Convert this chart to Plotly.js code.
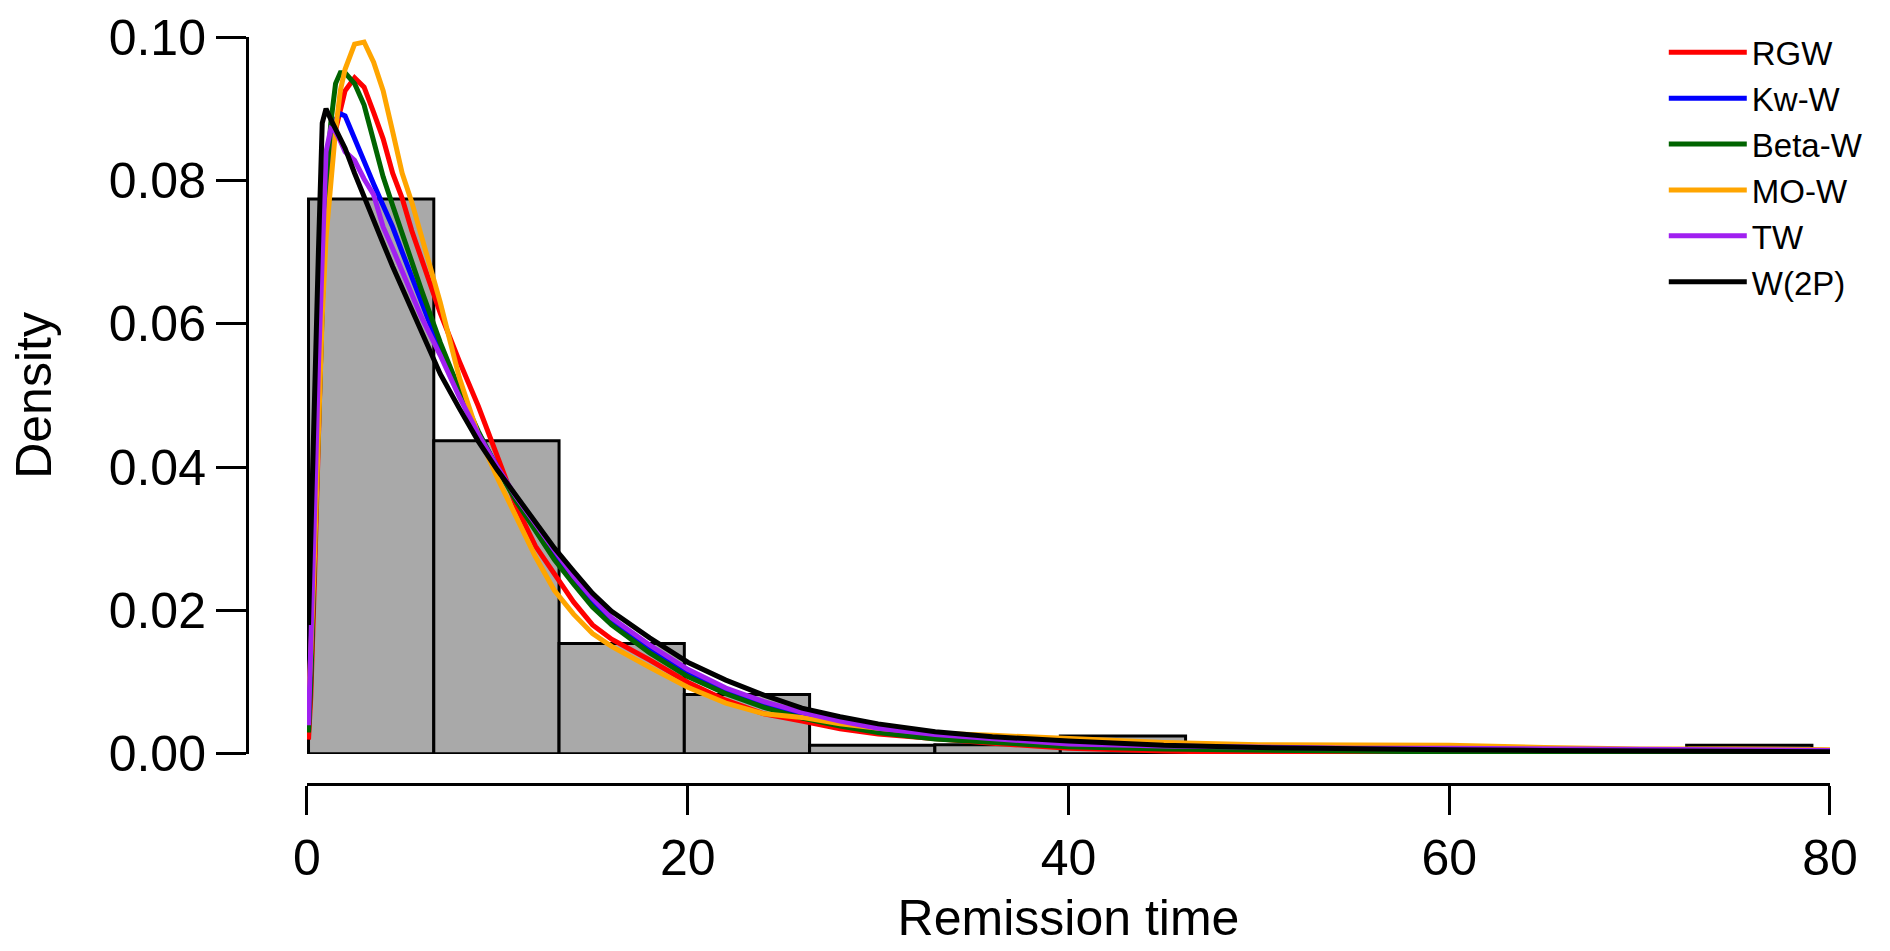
<!DOCTYPE html>
<html>
<head>
<meta charset="utf-8">
<script src="https://cdn.plot.ly/plotly-3.0.1.min.js"></script>
<style>
  html, body { margin: 0; padding: 0; background: #ffffff; }
  #chart { width: 1890px; height: 951px; }
</style>
</head>
<body>
<div id="chart"></div>
<script>
// histogram of remission times (density scale)
const binEdges = [0.08, 6.66, 13.24, 19.82, 26.40, 32.98, 39.57, 46.15, 52.73, 59.31, 65.89, 72.47, 79.05]
const binDensity = [0.0774, 0.0437, 0.0154, 0.0083, 0.0012, 0.0013, 0.0025, 0, 0, 0, 0, 0.0012]

// fitted density curves
const remissionX = [0.08, 0.2, 0.4, 0.6, 0.8, 1, 1.25, 1.5, 1.75, 2, 2.5, 3, 3.5, 4, 4.5, 5, 5.5, 6, 7, 8, 9, 10, 11, 12, 13, 14, 15, 16, 18, 20, 22, 24, 26, 28, 30, 33, 36, 40, 45, 50, 55, 60, 65, 70, 75, 80]
const rgw   = [0.002, 0.008, 0.025, 0.045, 0.063, 0.076, 0.083, 0.087, 0.090, 0.0925, 0.0943, 0.0930, 0.0895, 0.0858, 0.0810, 0.0775, 0.0730, 0.0690, 0.0615, 0.0548, 0.0485, 0.0415, 0.0345, 0.0290, 0.0250, 0.0212, 0.0180, 0.0160, 0.0131, 0.0100, 0.0075, 0.0056, 0.0046, 0.0035, 0.0028, 0.0021, 0.0015, 0.0008, 0.0004, 0.0002, 0.0001, 0.0000, 0.0000, 0.0000, 0.0000, 0.0000]
const kwW   = [0.004, 0.012, 0.030, 0.050, 0.066, 0.078, 0.085, 0.0885, 0.0893, 0.0890, 0.0858, 0.0823, 0.0795, 0.0765, 0.0735, 0.0700, 0.0665, 0.0630, 0.0563, 0.0503, 0.0448, 0.0400, 0.0356, 0.0316, 0.0278, 0.0243, 0.0210, 0.0185, 0.0146, 0.0113, 0.0088, 0.0069, 0.0054, 0.0042, 0.0033, 0.0024, 0.0018, 0.0012, 0.0008, 0.0006, 0.0005, 0.0004, 0.0004, 0.0003, 0.0002, 0.0002]
const betaW = [0.003, 0.010, 0.028, 0.047, 0.064, 0.079, 0.088, 0.0935, 0.0950, 0.0950, 0.0935, 0.0905, 0.0855, 0.0805, 0.0765, 0.0725, 0.0685, 0.0648, 0.0574, 0.0508, 0.0450, 0.0398, 0.0352, 0.0310, 0.0271, 0.0237, 0.0205, 0.0180, 0.0141, 0.0108, 0.0084, 0.0065, 0.0050, 0.0039, 0.0030, 0.0021, 0.0016, 0.0010, 0.0007, 0.0005, 0.0004, 0.0003, 0.0003, 0.0002, 0.0001, 0.0001]
const moW   = [0.008, 0.014, 0.028, 0.046, 0.061, 0.072, 0.080, 0.087, 0.0925, 0.0955, 0.0990, 0.0993, 0.0965, 0.0925, 0.0868, 0.0810, 0.0770, 0.0725, 0.0630, 0.0525, 0.0445, 0.0385, 0.0328, 0.0275, 0.0228, 0.0195, 0.0168, 0.0150, 0.0121, 0.0093, 0.0071, 0.0056, 0.0051, 0.0042, 0.0036, 0.0029, 0.0026, 0.0021, 0.0016, 0.0013, 0.0013, 0.0012, 0.0009, 0.0007, 0.0007, 0.0006]
const tw    = [0.004, 0.014, 0.034, 0.054, 0.071, 0.084, 0.0872, 0.0868, 0.0855, 0.0840, 0.0828, 0.0802, 0.0780, 0.0735, 0.0705, 0.0672, 0.0640, 0.0610, 0.0556, 0.0498, 0.0446, 0.0400, 0.0358, 0.0320, 0.0284, 0.0248, 0.0217, 0.0190, 0.0152, 0.0118, 0.0092, 0.0073, 0.0058, 0.0046, 0.0036, 0.0027, 0.0021, 0.0014, 0.0011, 0.0009, 0.0008, 0.0008, 0.0007, 0.0006, 0.0005, 0.0005]
const w2p   = [0.018, 0.030, 0.055, 0.070, 0.088, 0.0900, 0.0885, 0.0872, 0.0860, 0.0845, 0.0810, 0.0776, 0.0743, 0.0712, 0.0680, 0.0650, 0.0620, 0.0588, 0.0530, 0.0482, 0.0436, 0.0396, 0.0360, 0.0322, 0.0287, 0.0255, 0.0224, 0.0199, 0.0162, 0.0128, 0.0103, 0.0082, 0.0064, 0.0052, 0.0042, 0.0031, 0.0024, 0.0018, 0.0012, 0.0009, 0.0007, 0.0006, 0.0005, 0.0004, 0.0003, 0.0003]

const seriesNames = ["RGW", "Kw-W", "Beta-W", "MO-W", "TW", "W(2P)"]
const seriesValues = [rgw, kwW, betaW, moW, tw, w2p]
const seriesColors = ["#FF0000", "#0000FF", "#006400", "#FFA500", "#A020F0", "#000000"]

const FONT = "Liberation Sans, Arial, sans-serif"

const binMids = binDensity.map((d, i) => (binEdges[i] + binEdges[i + 1]) / 2)
const binWidths = binDensity.map((d, i) => binEdges[i + 1] - binEdges[i])

const data = [
    {
        type: "bar",
        x: binMids,
        y: binDensity,
        width: binWidths,
        marker: { color: "#A9A9A9", line: { color: "#000000", width: 3 } },
        showlegend: false,
        hoverinfo: "skip"
    },
    {
        // bar baseline (zero-height bins still show as a line in R)
        type: "scatter",
        mode: "lines",
        x: [binEdges[0], binEdges[binEdges.length - 1]],
        y: [0, 0],
        line: { color: "#000000", width: 3 },
        showlegend: false,
        hoverinfo: "skip"
    }
]

seriesNames.forEach((name, i) => {
    data.push({
        type: "scatter",
        mode: "lines",
        name: name,
        x: remissionX,
        y: seriesValues[i],
        line: { color: seriesColors[i], width: 5 }
    })
})

const layout = {
    width: 1890,
    height: 951,
    margin: { l: 247, r: 60, t: 37, b: 167 },
    paper_bgcolor: "#FFFFFF",
    plot_bgcolor: "#FFFFFF",
    font: { family: FONT, size: 50, color: "#000000" },
    bargap: 0,
    xaxis: {
        domain: [0.0379, 1],
        anchor: "free",
        position: 0,
        range: [0, 80],
        tickvals: [0, 20, 40, 60, 80],
        showline: true,
        linewidth: 3,
        linecolor: "#000000",
        ticks: "outside",
        ticklen: 29,
        tickwidth: 3,
        tickcolor: "#000000",
        showgrid: false,
        zeroline: false,
        tickfont: { family: FONT, size: 50 },
        title: { text: "Remission time", font: { family: FONT, size: 50 }, standoff: 14 }
    },
    yaxis: {
        domain: [0.0402, 1],
        anchor: "free",
        position: 0,
        range: [0, 0.1],
        tickvals: [0, 0.02, 0.04, 0.06, 0.08, 0.1],
        tickformat: ".2f",
        showline: true,
        linewidth: 3,
        linecolor: "#000000",
        ticks: "outside",
        ticklen: 30,
        tickwidth: 3,
        tickcolor: "#000000",
        showgrid: false,
        zeroline: false,
        tickfont: { family: FONT, size: 50 },
        title: { text: "Density", font: { family: FONT, size: 50 }, standoff: 40 }
    },
    legend: {
        x: 0.895,
        y: 1.017,
        xanchor: "left",
        yanchor: "top",
        bgcolor: "rgba(0,0,0,0)",
        borderwidth: 0,
        itemwidth: 78,
        tracegroupgap: 0,
        font: { family: FONT, size: 33, color: "#000000" }
    },
    showlegend: true
}

const config = { staticPlot: true, displayModeBar: false }

Plotly.newPlot("chart", data, layout, config)
</script>
</body>
</html>
